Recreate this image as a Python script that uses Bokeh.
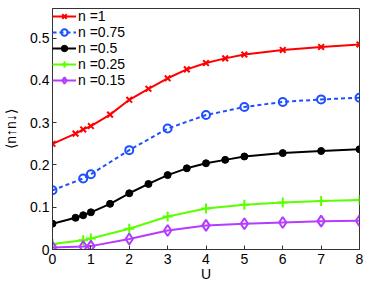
from bokeh.plotting import figure
from bokeh.models import FixedTicker, Range1d, Legend, LegendItem
from bokeh.embed import file_html
from bokeh.resources import INLINE

# data
u_dense = [0, 0.6, 0.8, 1, 1.5, 2, 2.5, 3, 3.5, 4, 4.5, 5, 6, 7, 8]
u_sparse = [0, 0.8, 1, 2, 3, 4, 5, 6, 7, 8]
n_100 = [0.250, 0.274, 0.284, 0.292, 0.319, 0.354, 0.380, 0.405, 0.426, 0.441, 0.452, 0.461, 0.472, 0.479, 0.485]
n_075 = [0.140, 0.168, 0.178, 0.235, 0.286, 0.318, 0.337, 0.349, 0.355, 0.359]
n_050 = [0.061, 0.075, 0.081, 0.088, 0.108, 0.133, 0.155, 0.176, 0.192, 0.204, 0.212, 0.220, 0.228, 0.233, 0.237]
n_025 = [0.013, 0.022, 0.026, 0.049, 0.078, 0.097, 0.106, 0.111, 0.115, 0.117]
n_015 = [0.005, 0.007, 0.008, 0.025, 0.045, 0.057, 0.061, 0.064, 0.067, 0.068]
labels = ["n =1", "n =0.75", "n =0.5", "n =0.25", "n =0.15"]
x_ticks = [0, 1, 2, 3, 4, 5, 6, 7, 8]
y_ticks = [0, 0.1, 0.2, 0.3, 0.4, 0.5]

FONT = "Liberation Sans"
FS = "14px"

p = figure(width=366, height=284, output_backend="svg", toolbar_location=None,
           x_range=Range1d(0, 8), y_range=Range1d(0, 0.57),
           min_border_left=51, min_border_right=7, min_border_top=8, min_border_bottom=34,
           x_axis_label="U", y_axis_label="⟨n↑n↓⟩")
p.background_fill_color = "white"
p.border_fill_color = "white"
p.outline_line_color = "#333333"
p.outline_line_width = 1
p.grid.visible = False

for ax in (p.xaxis[0], p.yaxis[0]):
    ax.major_tick_in = 4
    ax.major_tick_out = 0
    ax.minor_tick_line_color = None
    ax.axis_line_color = "#333333"
    ax.major_tick_line_color = "#333333"
    ax.major_label_text_font = FONT
    ax.major_label_text_font_size = FS
    ax.major_label_text_color = "black"
    ax.axis_label_text_font = FONT
    ax.axis_label_text_font_size = FS
    ax.axis_label_text_font_style = "normal"
    ax.axis_label_text_color = "black"

p.xaxis[0].ticker = FixedTicker(ticks=x_ticks)
p.yaxis[0].ticker = FixedTicker(ticks=y_ticks)
p.yaxis[0].major_label_overrides = {0: "0"}
p.xaxis[0].major_label_standoff = 4
p.xaxis[0].axis_label_standoff = -1
p.yaxis[0].major_label_standoff = 3
p.yaxis[0].axis_label_standoff = 8

RED = "#ff0000"
BLUE = "#1e50ff"
BLACK = "#000000"
GREEN = "#5cff00"
PURPLE = "#b43cff"

items = []
l1 = p.line(u_dense, n_100, line_color=RED, line_width=2)
m1 = p.scatter(u_dense, n_100, marker="x", size=8, line_color=RED, line_width=2)
items.append(LegendItem(label=labels[0], renderers=[l1, m1]))

l2 = p.line(u_sparse, n_075, line_color=BLUE, line_width=2, line_dash="4 3")
m2 = p.scatter(u_sparse, n_075, marker="circle", size=8, line_color=BLUE, line_width=2, fill_color=None)
items.append(LegendItem(label=labels[1], renderers=[l2, m2]))

l3 = p.line(u_dense, n_050, line_color=BLACK, line_width=2)
m3 = p.scatter(u_dense, n_050, marker="circle", size=7, line_color=BLACK, fill_color=BLACK)
items.append(LegendItem(label=labels[2], renderers=[l3, m3]))

l4 = p.line(u_sparse, n_025, line_color=GREEN, line_width=2)
m4 = p.scatter(u_sparse, n_025, marker="cross", size=10, line_color=GREEN, line_width=2)
items.append(LegendItem(label=labels[3], renderers=[l4, m4]))

l5 = p.line(u_sparse, n_015, line_color=PURPLE, line_width=2)
m5 = p.scatter(u_sparse, n_015, marker="diamond", size=11, line_color=PURPLE, line_width=2, fill_color=None)
items.append(LegendItem(label=labels[4], renderers=[l5, m5]))

legend = Legend(items=items, location="top_left")
legend.margin = 0
legend.padding = 5
legend.spacing = 0
legend.glyph_width = 24
legend.glyph_height = 16
legend.label_height = 16
legend.label_standoff = 2
legend.label_text_font = FONT
legend.label_text_font_size = FS
legend.label_text_color = "black"
legend.border_line_color = None
legend.background_fill_alpha = 0
p.add_layout(legend, "center")

open("out.html", "w").write(file_html(p, INLINE))
